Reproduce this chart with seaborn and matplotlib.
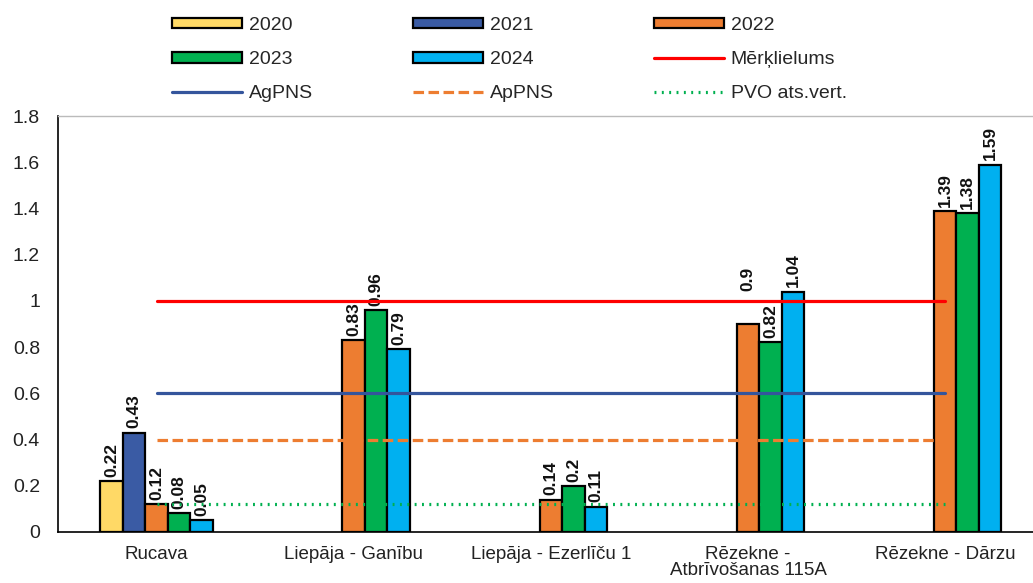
import numpy as np
import pandas as pd
import seaborn as sns
import matplotlib.pyplot as plt
from matplotlib.lines import Line2D
from matplotlib.patches import Patch

stations = ["Rucava", "Liepāja - Ganību", "Liepāja - Ezerlīču 1",
            "Rēzekne -\nAtbrīvošanas 115A", "Rēzekne - Dārzu"]
years = ["2020", "2021", "2022", "2023", "2024"]
v2020 = [0.22, np.nan, np.nan, np.nan, np.nan]
v2021 = [0.43, np.nan, np.nan, np.nan, np.nan]
v2022 = [0.12, 0.83, 0.14, 0.90, 1.39]
v2023 = [0.08, 0.96, 0.20, 0.82, 1.38]
v2024 = [0.05, 0.79, 0.11, 1.04, 1.59]

merklielums = 1.0
agpns = 0.6
appns = 0.4
pvo = 0.12

bar_colors = ["#FFD966", "#3A5BA4", "#ED7D31", "#00B050", "#00B0F0"]
dash_style = (0, (3.3, 1.4))
dot_style = (0, (0.6, 1.7))

rows = []
for yr, vals in zip(years, [v2020, v2021, v2022, v2023, v2024]):
    for st, v in zip(stations, vals):
        rows.append({"station": st, "year": yr, "value": v})
df = pd.DataFrame(rows)

sns.set_style("white")
plt.rcParams['font.family'] = ['Liberation Sans', 'DejaVu Sans']

fig = plt.figure(figsize=(10.33, 5.83), dpi=100)
ax = fig.add_axes([0.0561, 0.0875, 0.9439, 0.7135])

sns.barplot(data=df, x="station", y="value", hue="year", order=stations,
            hue_order=years, palette=bar_colors, width=0.57, dodge=True,
            edgecolor="black", linewidth=1.6, saturation=1, legend=False, ax=ax)

for cont in ax.containers:
    for bar in cont:
        h = bar.get_height()
        if np.isnan(h) or h == 0:
            continue
        # the 0.9 label sits above the target line in the original
        lift = 24 if (h == 0.90 and bar.get_facecolor()[0] > 0.9) else 3
        ax.annotate(f"{h:g}", (bar.get_x() + bar.get_width() / 2, h),
                    xytext=(0, lift), textcoords="offset points", rotation=90,
                    ha="center", va="bottom", fontsize=12.5, fontweight="bold",
                    color="#111111")

xs = np.arange(len(stations))
ax.plot(xs, [merklielums] * len(xs), color="#FF0000", lw=2.3, zorder=5)
ax.plot(xs, [agpns] * len(xs), color="#34559C", lw=2.3, zorder=5)
ax.plot(xs, [appns] * len(xs), color="#ED7D31", lw=2.3, ls=dash_style, zorder=5)
ax.plot(xs, [pvo] * len(xs), color="#00B050", lw=2.3, ls=dot_style, zorder=5)

ax.set_xlim(-0.5, 4.445)
ax.set_ylim(0, 1.8)
ticks = np.round(np.arange(0, 1.81, 0.2), 1)
ax.set_yticks(ticks)
ax.set_yticklabels([f"{t:g}" for t in ticks], fontsize=14, color="#222222")
ax.tick_params(axis="x", labelsize=13.5, colors="#222222", length=0, pad=10)
ax.tick_params(axis="y", length=0, pad=13)
for lbl in ax.get_xticklabels():
    lbl.set_linespacing(0.95)
ax.set_xlabel("")
ax.set_ylabel("")
for s in ["left", "bottom"]:
    ax.spines[s].set_color("black")
    ax.spines[s].set_linewidth(1.2)
ax.spines["top"].set_color("#BBBBBB")
ax.spines["top"].set_linewidth(1.0)
ax.spines["right"].set_visible(False)

h2020 = Patch(facecolor=bar_colors[0], edgecolor="black", lw=1.6, label="2020")
h2021 = Patch(facecolor=bar_colors[1], edgecolor="black", lw=1.6, label="2021")
h2022 = Patch(facecolor=bar_colors[2], edgecolor="black", lw=1.6, label="2022")
h2023 = Patch(facecolor=bar_colors[3], edgecolor="black", lw=1.6, label="2023")
h2024 = Patch(facecolor=bar_colors[4], edgecolor="black", lw=1.6, label="2024")
hmerk = Line2D([], [], color="#FF0000", lw=2.3, label="Mērķlielums")
hag = Line2D([], [], color="#34559C", lw=2.3, label="AgPNS")
hap = Line2D([], [], color="#ED7D31", lw=2.3, ls=dash_style, label="ApPNS")
hpvo = Line2D([], [], color="#00B050", lw=2.3, ls=dot_style, label="PVO ats.vert.")
# legend fills column by column, so order for row-wise reading
handles = [h2020, h2023, hag, h2021, h2024, hap, h2022, hmerk, hpvo]
fig.legend(handles=handles, ncol=3, loc="upper left", bbox_to_anchor=(0.1665, 0.971),
           frameon=False, fontsize=14, handlelength=3.6, handleheight=0.48,
           columnspacing=5.15, labelspacing=0.88, handletextpad=0.35,
           borderpad=0, borderaxespad=0)

fig.savefig("out.png", dpi=100)
